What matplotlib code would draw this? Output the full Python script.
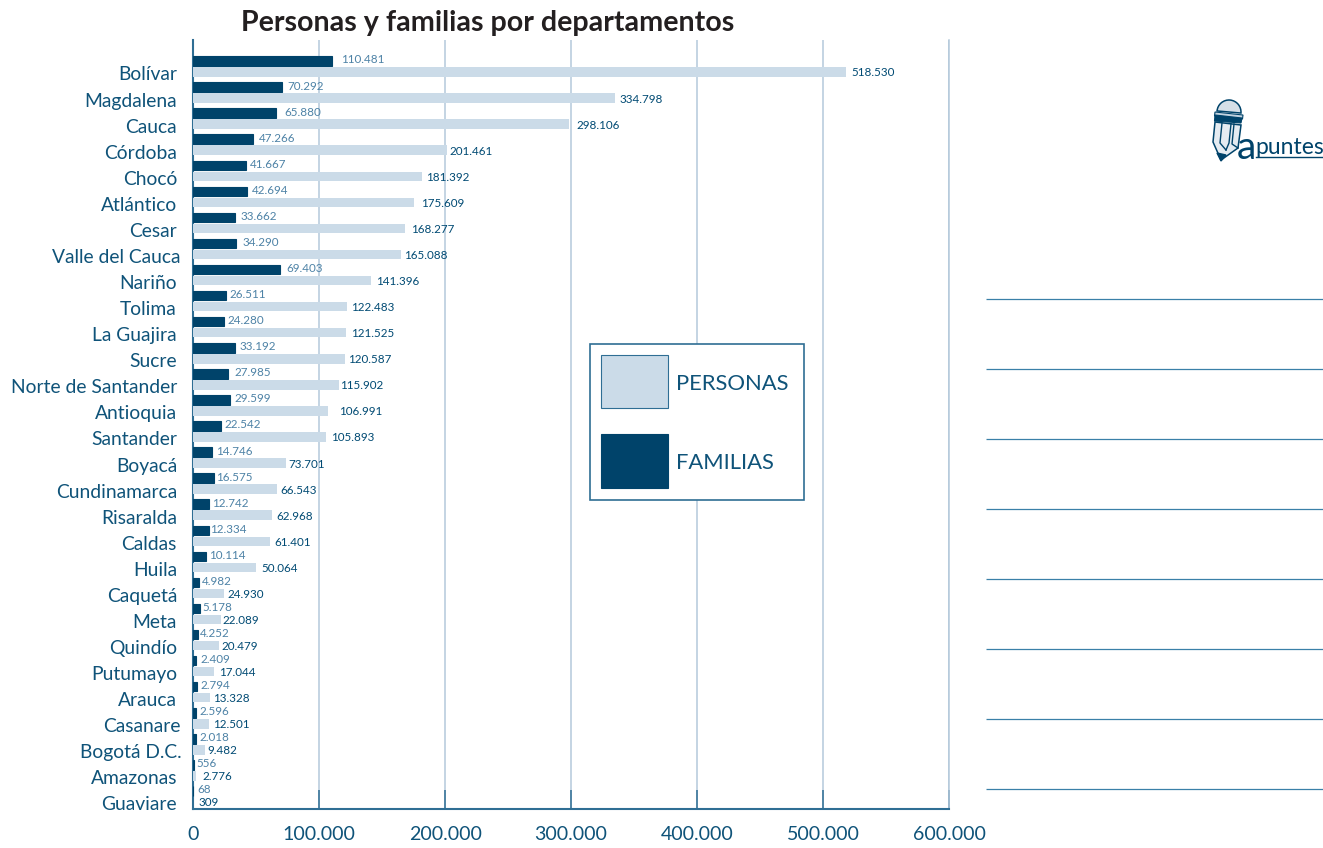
import matplotlib
matplotlib.use('Agg')
import matplotlib.pyplot as plt
from matplotlib.patches import Rectangle, Polygon, Wedge

plt.rcParams['font.family'] = ['Lato', 'DejaVu Sans']

# Datos por departamento
departamentos = ['Bolívar', 'Magdalena', 'Cauca', 'Córdoba', 'Chocó', 'Atlántico', 'Cesar',
                 'Valle del Cauca', 'Nariño', 'Tolima', 'La Guajira', 'Sucre',
                 'Norte de Santander', 'Antioquia', 'Santander', 'Boyacá', 'Cundinamarca',
                 'Risaralda', 'Caldas', 'Huila', 'Caquetá', 'Meta', 'Quindío', 'Putumayo',
                 'Arauca', 'Casanare', 'Bogotá D.C.', 'Amazonas', 'Guaviare']
personas = [518530, 334798, 298106, 201461, 181392, 175609, 168277, 165088, 141396, 122483,
            121525, 120587, 115902, 106991, 105893, 73701, 66543, 62968, 61401, 50064,
            24930, 22089, 20479, 17044, 13328, 12501, 9482, 2776, 309]
familias = [110481, 70292, 65880, 47266, 41667, 42694, 33662, 34290, 69403, 26511,
            24280, 33192, 27985, 29599, 22542, 14746, 16575, 12742, 12334, 10114,
            4982, 5178, 4252, 2409, 2794, 2596, 2018, 556, 68]
ticks_x = [0, 100000, 200000, 300000, 400000, 500000, 600000]

# Separación en pixeles entre barra y etiqueta
gap_personas = [5.5, 5, 8, 3, 4, 7, 6, 3, 5, 4, 5, 3, 1, 11, 5, 3, 4, 4, 4.5, 5,
                3, 2, 3, 4.5, 3.5, 4, 2, 5.5, 5.5]
gap_familias = [9, 6, 8, 6, 4, 5, 5, 6, 6, 3, 4, 5, 6, 4, 3, 4, 2, 3, 2, 3,
                3, 2.5, 2, 4, 3.5, 3.5, 4, 3, 4]
# Desplazamiento de los nombres que sobresalen a la derecha
shift_nombre = {'Valle del Cauca': 4, 'Casanare': 4, 'Bogotá D.C.': 5}

AZUL = '#00436a'
CLARO = '#cbdbe8'
LINEA = '#2f6e94'
GRID = '#b4c9db'
TXT = '#0f5379'
W, H = 1323, 848


def miles(v):
    return f'{v:,}'.replace(',', '.')


fig = plt.figure(figsize=(W / 100, H / 100), dpi=100)
ax = fig.add_axes([193 / W, 1 - 809 / H, 756 / W, 769 / H])
ax.set_xlim(0, 600000)
ax.set_ylim(28.48, -1.016)

off = 5.5 / 26.07
alto = 9.5 / 26.07
for i, dep in enumerate(departamentos):
    ax.barh(i - off, familias[i], height=alto, color=AZUL, edgecolor=AZUL, lw=0.8, zorder=3)
    ax.barh(i + off, personas[i], height=alto, color=CLARO, zorder=3)
    ax.annotate(miles(familias[i]), (familias[i], i - off), xytext=(gap_familias[i], 1),
                textcoords='offset pixels', va='center', ha='left', fontsize=8.4,
                color='#4d82a6', zorder=4)
    ax.annotate(miles(personas[i]), (personas[i], i + off), xytext=(gap_personas[i], -1),
                textcoords='offset pixels', va='center', ha='left', fontsize=8.4,
                color='#004a73', zorder=4)
    ax.annotate(dep, (0, i + off), xytext=(-16 + shift_nombre.get(dep, 0), -3),
                textcoords='offset pixels', va='center', ha='right', fontsize=13.9,
                color=TXT, annotation_clip=False)

ax.set_yticks([])
ax.set_xticks(ticks_x)
ax.set_xticklabels([miles(t) for t in ticks_x], fontsize=14.1, color=TXT)
ax.tick_params(axis='x', direction='in', length=13.5, width=1.1, color=LINEA, pad=12.5)
ax.grid(axis='x', color=GRID, linewidth=1.1, zorder=1)
ax.set_axisbelow(True)
ax.spines['top'].set_visible(False)
ax.spines['right'].set_color(GRID)
ax.spines['right'].set_linewidth(1.1)
ax.spines['left'].set_color(LINEA)
ax.spines['left'].set_linewidth(1.5)
ax.spines['bottom'].set_color(LINEA)
ax.spines['bottom'].set_linewidth(1.5)

# Capa en pixeles para titulo, leyenda, renglones y logo
capa = fig.add_axes([0, 0, 1, 1], zorder=5)
capa.set_xlim(0, W)
capa.set_ylim(H, 0)
capa.axis('off')
capa.patch.set_alpha(0)

capa.text(241, 23, 'Personas y familias por departamentos', fontsize=20.6, fontweight='bold',
          color='#231f20', va='center', ha='left')

capa.add_patch(Rectangle((590, 344), 214, 156, facecolor='white', edgecolor=LINEA, lw=1.2))
capa.add_patch(Rectangle((601, 355), 67, 53, facecolor=CLARO, edgecolor=LINEA, lw=0.8))
capa.add_patch(Rectangle((601, 434), 67, 54, facecolor=AZUL, edgecolor=AZUL, lw=0.8))
capa.text(676, 384, 'PERSONAS', fontsize=15.8, color=TXT, va='center', ha='left')
capa.text(676, 463, 'FAMILIAS', fontsize=15.8, color=TXT, va='center', ha='left')

for y in [299, 369, 439, 509, 579, 649, 719, 789]:
    capa.plot([986, W], [y, y], color='#3a80a8', lw=0.9, solid_capstyle='butt')

# Logo: lapiz y texto
capa.add_patch(Wedge((1229, 112), 12, 185, 5, facecolor='#d5dfe7', edgecolor=AZUL, lw=1.1))
capa.add_patch(Polygon([(1215, 122), (1241, 125), (1238, 148), (1221, 160), (1213, 142)],
                       closed=True, facecolor='#e4ebf1', edgecolor=AZUL, lw=1.1))
capa.add_patch(Polygon([(1215, 112), (1243, 115), (1242.5, 119), (1214.5, 116)],
                       closed=True, facecolor='#c3d3e0', edgecolor=AZUL, lw=0.8))
capa.add_patch(Polygon([(1215, 115), (1242, 118), (1241, 123), (1214.5, 121)],
                       closed=True, facecolor=AZUL, edgecolor=AZUL, lw=0.8))
capa.plot([1222, 1220, 1226], [123, 143, 150], color=AZUL, lw=1)
capa.plot([1231, 1229, 1226], [124, 143, 150], color=AZUL, lw=1)
capa.plot([1234, 1232, 1238], [124, 144, 148], color=AZUL, lw=1)
capa.add_patch(Polygon([(1217, 153), (1226, 155), (1221, 161)], closed=True, facecolor=AZUL, edgecolor=AZUL))
capa.text(1237, 148, 'a', fontsize=28, color=AZUL, va='center', ha='left', clip_on=True)
capa.text(1255, 147, 'puntes', fontsize=16.5, color=AZUL, va='center', ha='left', clip_on=True)
capa.plot([1256, W], [157, 157], color=AZUL, lw=1)

fig.savefig('out.png', dpi=100)
